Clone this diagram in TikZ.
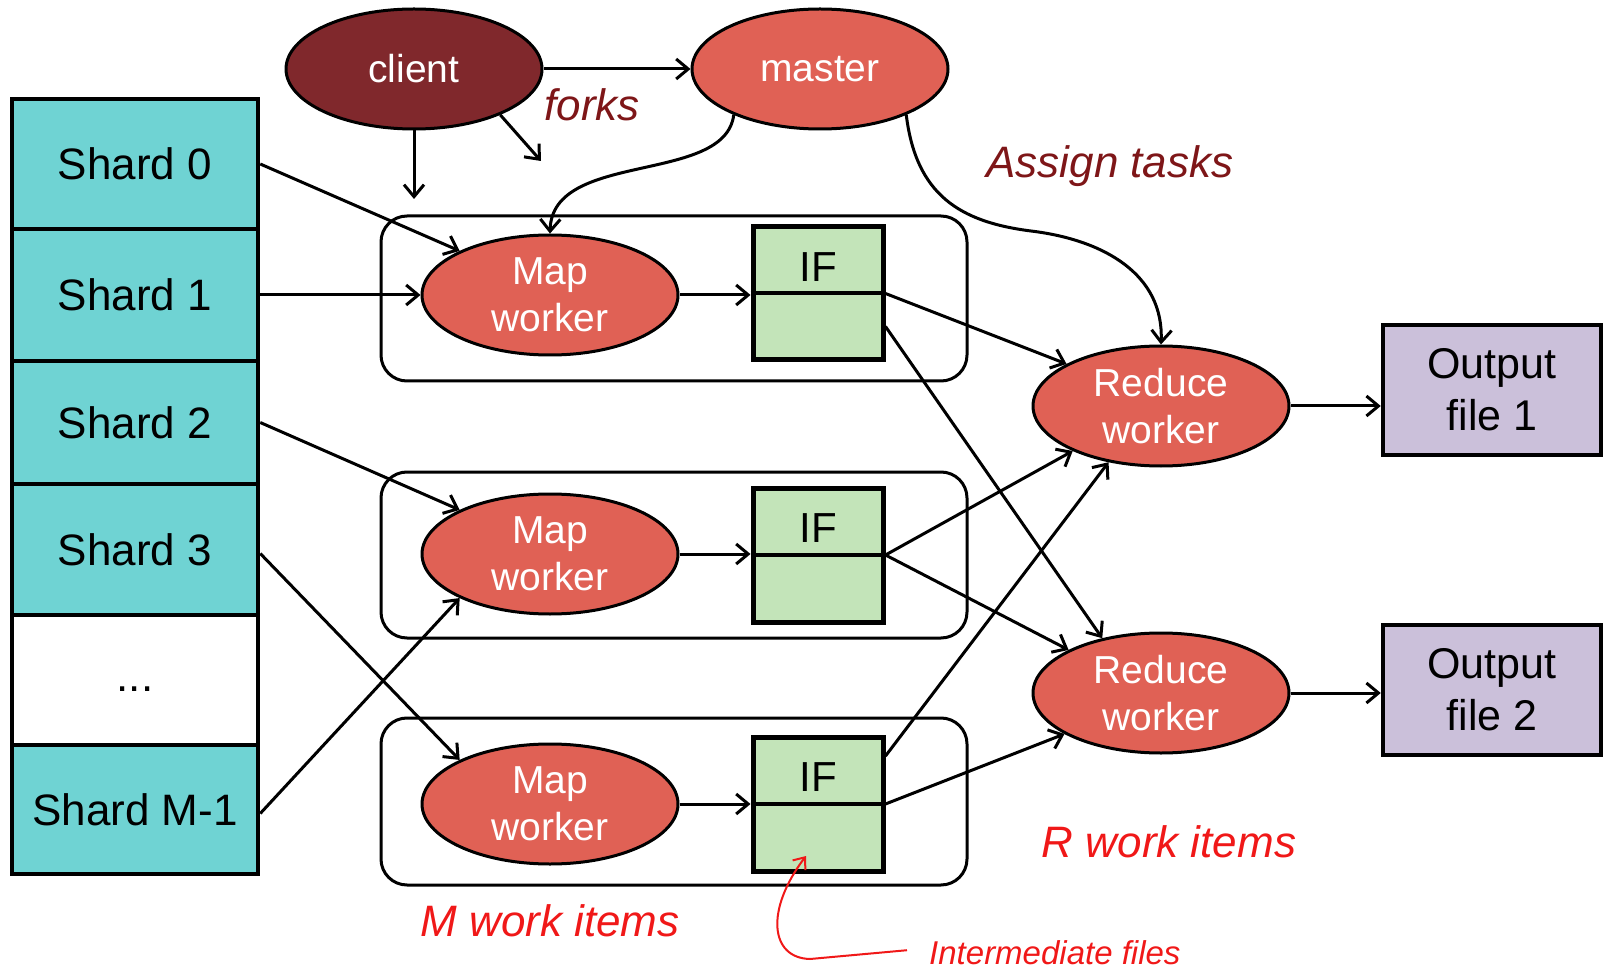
\documentclass[tikz,border=0pt]{standalone}
\usepackage{fontspec}
\setmainfont{Liberation Sans}
\usetikzlibrary{arrows.meta,shapes.geometric,calc}
\definecolor{shardc}{HTML}{6FD3D3}
\definecolor{ifc}{HTML}{C3E4B9}
\definecolor{outc}{HTML}{CBC0DA}
\definecolor{workc}{HTML}{E06155}
\definecolor{clientc}{HTML}{80282C}
\definecolor{notec}{HTML}{7E1618}
\definecolor{redc}{HTML}{F01818}
\begin{document}
\begin{tikzpicture}[x=1pt,y=-1pt,
  shardbox/.style={draw=black,line width=4.5pt,fill=shardc,minimum width=246pt,inner sep=0pt,
    font=\fontsize{44}{50}\selectfont},
  groupbox/.style={draw=black,line width=3pt,rounded corners=26pt,inner sep=0pt},
  worker/.style={ellipse,draw=black,line width=3pt,fill=workc,minimum width=256pt,minimum height=120pt,inner sep=0pt},
  wtext/.style={text=white,align=center,font=\fontsize{39}{47}\selectfont},
  ifbox/.style={draw=black,line width=5pt,fill=ifc,minimum width=130pt,inner sep=0pt},
  iftext/.style={font=\fontsize{42}{48}\selectfont},
  outbox/.style={draw=black,line width=4.5pt,fill=outc,minimum width=218pt,minimum height=130pt,inner sep=0pt,
    align=center,font=\fontsize{43}{52}\selectfont},
  conn/.style={line width=3pt,-{Straight Barb[length=12pt,width=20pt]}},
  note/.style={text=notec,font=\fontsize{44}{50}\selectfont\itshape},
  rednote/.style={text=redc,font=\fontsize{44}{50}\selectfont\itshape},
]
\useasboundingbox (0,0) rectangle (1604,973);

% shards
\node[shardbox,minimum height=130pt] (s0) at (135,164) {Shard 0};
\node[shardbox,minimum height=132pt] (s1) at (135,295) {Shard 1};
\node[shardbox,minimum height=123pt] (s2) at (135,422.5) {Shard 2};
\node[shardbox,minimum height=131pt] (s3) at (135,549.5) {Shard 3};
\node[shardbox,minimum height=130pt,fill=white,text height=22pt,text depth=0pt] (sd) at (135,680) {...};
\node[shardbox,minimum height=129pt] (sm) at (135,809.5) {Shard M-1};

% group boxes
\node[groupbox,minimum width=586pt,minimum height=165pt] (g1) at (674,298.5) {};
\node[groupbox,minimum width=586pt,minimum height=166pt] (g2) at (674,555) {};
\node[groupbox,minimum width=586pt,minimum height=167pt] (g3) at (674,801.5) {};

% client and master
\node[worker,fill=clientc] (client) at (414,69) {};
\node[wtext] at (client) {client};
\node[worker] (master) at (820,69) {};
\node[wtext] at (master) {master};

% map workers
\node[worker] (m1) at (550,295) {};
\node[wtext] at (m1) {Map\\worker};
\node[worker] (m2) at (550,554) {};
\node[wtext] at (m2) {Map\\worker};
\node[worker] (m3) at (550,804) {};
\node[wtext] at (m3) {Map\\worker};

% intermediate files
\node[ifbox,minimum height=133pt] (if1) at (818,293.5) {};
\node[ifbox,minimum height=134pt] (if2) at (818,555) {};
\node[ifbox,minimum height=134pt] (if3) at (818,804) {};
\foreach \i in {1,2,3}{
  \draw[line width=4pt] (if\i.west) -- (if\i.east);
  \node[iftext] at ([yshift=-8pt]$(if\i.center)!0.5!(if\i.north)$) {IF};
}

% reduce workers
\node[worker] (r1) at (1161,406) {};
\node[wtext] at (r1) {Reduce\\worker};
\node[worker] (r2) at (1161,693) {};
\node[wtext] at (r2) {Reduce\\worker};

% outputs
\node[outbox] (o1) at (1492,390) {Output\\file 1};
\node[outbox] (o2) at (1492,690) {Output\\file 2};

% labels
\node[note] (forks) at (592,105) {forks};
\node[note] (assign) at (1110,166) {Assign tasks};
\node[rednote] (mwi) at (550,921) {M work items};
\node[rednote] (rwi) at (1169,842) {R work items};
\node[text=redc,font=\fontsize{33}{38}\selectfont\itshape,anchor=base west,inner sep=0pt] (imf) at (929,964) {Intermediate files};

% client/master arrows
\coordinate (cdown) at (414,199);
\coordinate (cdiag) at (541,161);
\coordinate (mbend) at (1031,231);
\draw[conn] (client.east) -- (master.west);
\draw[conn] (client.south) -- (cdown);
\draw[conn] (client.-28) -- (cdiag);
\draw[conn] (master.-152) .. controls (725,185) and (552,150) .. (m1.north);
\draw[conn] (master.-28) .. controls (916,195) and (960,222) .. (mbend)
  .. controls (1105,240) and (1164,275) .. (r1.north);

% shards to maps
\draw[conn] (s0.east) -- (m1.154);
\draw[conn] (s1.east) -- (m1.west);
\draw[conn] (s2.east) -- (m2.154);
\draw[conn] ([yshift=-4pt]s3.east) -- (m3.154);
\draw[conn] ([yshift=-4pt]sm.east) -- (m2.206);

% maps to IF
\draw[conn] (m1.east) -- (m1.east -| if1.west);
\draw[conn] (m2.east) -- (m2.east -| if2.west);
\draw[conn] (m3.east) -- (m3.east -| if3.west);

% IF to reduce
\draw[conn] (if1.east) -- (r1.156);
\draw[conn] ([yshift=-33pt]if1.east) -- (r2.137);
\draw[conn] (if2.east) -- (r1.207);
\draw[conn] (if2.east) -- (r2.155);
\draw[conn] ([yshift=48pt]if3.east) -- (r1.227);
\draw[conn] (if3.east) -- (r2.203);

% reduce to output
\draw[conn] (r1.east) -- (r1.east -| o1.west);
\draw[conn] (r2.east) -- (r2.east -| o2.west);

% intermediate files pointer
\coordinate (imftip) at (806,856);
\draw[line width=2pt,draw=redc,-{Straight Barb[length=10pt,width=16pt]}]
  ([xshift=-22pt,yshift=2pt]imf.west) -- (810,959) .. controls (770,958) and (765,910) .. (imftip);
\end{tikzpicture}
\end{document}
